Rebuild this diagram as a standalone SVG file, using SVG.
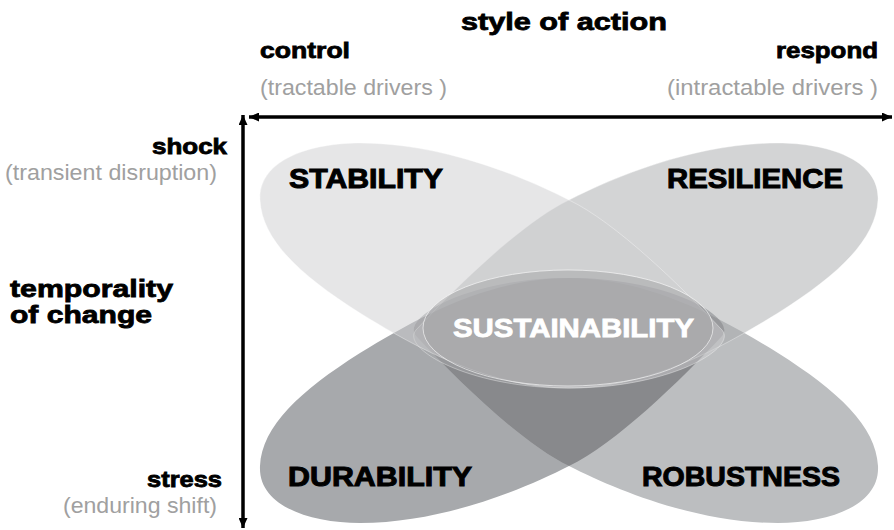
<svg xmlns="http://www.w3.org/2000/svg" width="894" height="530" viewBox="0 0 894 530">
<style>
.lab{font-family:"Liberation Sans",Arial,sans-serif;font-weight:bold;fill:#000;stroke:#000;stroke-width:0.8}
.big{font-family:"Liberation Sans",Arial,sans-serif;font-weight:bold;font-size:27px;fill:#000;stroke:#000;stroke-width:1}
.sub{font-family:"Liberation Sans",Arial,sans-serif;font-size:22px;fill:#a0a0a0}
.edge{stroke:#ffffff;stroke-opacity:0.6;stroke-width:0.6}
</style>
<defs>
<path id="petal" d="M 260,200 C 258,160 310,143 360,143 C 440,143 520,175 569,200 C 615,222 680,285 722,330 C 738,348 670,388 570,388 C 490,388 420,350 360,313 C 300,275 262,240 260,200 Z"/>
<clipPath id="clipD"><use href="#petal" transform="matrix(1,0,0,-1,0,666)"/></clipPath>
<marker id="ah" viewBox="0 0 10 9" refX="10" refY="4.5" markerWidth="10" markerHeight="9" markerUnits="userSpaceOnUse" orient="auto-start-reverse"><path d="M0,0 L10,4.5 L0,9 Z" fill="#000"/></marker>
</defs>
<rect width="894" height="530" fill="#ffffff"/>

<g id="durability">
<use href="#petal" transform="matrix(1,0,0,-1,0,666)" fill="#a7a9ac"/>
</g>
<g id="robustness">
<use href="#petal" transform="matrix(-1,0,0,-1,1138,666)" fill="#bcbec0"/>
</g>
<g id="overlap-durability-robustness" clip-path="url(#clipD)">
<use href="#petal" transform="matrix(-1,0,0,-1,1138,666)" fill="#88898c"/>
</g>
<g id="resilience">
<use href="#petal" class="edge" transform="matrix(-1,0,0,1,1138,0)" fill="#a7a9ac" fill-opacity="0.5"/>
</g>
<g id="stability">
<use href="#petal" class="edge" fill="#cdcecf" fill-opacity="0.5"/>
</g>
<g id="sustainability">
<ellipse cx="568" cy="328" rx="145" ry="58" fill="#9d9ea1" fill-opacity="0.43" stroke="#ffffff" stroke-opacity="0.6" stroke-width="1"/>
<text x="453" y="337" textLength="241" lengthAdjust="spacingAndGlyphs" style="font-family:'Liberation Sans',Arial,sans-serif;font-weight:bold;font-size:26px;fill:#ffffff;stroke:#ffffff;stroke-width:0.8">SUSTAINABILITY</text>
</g>

<g id="labels">
<text class="big" x="289" y="188" textLength="154" lengthAdjust="spacingAndGlyphs">STABILITY</text>
<text class="big" x="667" y="188" textLength="176" lengthAdjust="spacingAndGlyphs">RESILIENCE</text>
<text class="big" x="288" y="486" textLength="184" lengthAdjust="spacingAndGlyphs">DURABILITY</text>
<text class="big" x="642" y="486" textLength="198" lengthAdjust="spacingAndGlyphs">ROBUSTNESS</text>
</g>

<g id="connectors">
<line x1="249" y1="117" x2="892" y2="117" stroke="#000" stroke-width="3.5" marker-start="url(#ah)" marker-end="url(#ah)"/>
<line x1="243" y1="115" x2="243" y2="528" stroke="#000" stroke-width="3.5" marker-start="url(#ah)" marker-end="url(#ah)"/>
</g>

<g id="axis-x">
<text class="lab" x="461" y="30" font-size="24" textLength="206" lengthAdjust="spacingAndGlyphs">style of action</text>
<text class="lab" x="260" y="58" font-size="22" textLength="90" lengthAdjust="spacingAndGlyphs">control</text>
<text class="sub" x="260" y="95" textLength="187" lengthAdjust="spacingAndGlyphs">(tractable drivers )</text>
<text class="lab" x="776" y="58" font-size="22" textLength="102" lengthAdjust="spacingAndGlyphs">respond</text>
<text class="sub" x="667" y="95" textLength="211" lengthAdjust="spacingAndGlyphs">(intractable drivers )</text>
</g>
<g id="axis-y">
<text class="lab" x="152" y="154" font-size="22" textLength="75" lengthAdjust="spacingAndGlyphs">shock</text>
<text class="sub" x="5" y="180" textLength="212" lengthAdjust="spacingAndGlyphs">(transient disruption)</text>
<text class="lab" x="10" y="297" font-size="24" textLength="163" lengthAdjust="spacingAndGlyphs">temporality</text>
<text class="lab" x="10" y="323" font-size="24" textLength="142" lengthAdjust="spacingAndGlyphs">of change</text>
<text class="lab" x="147" y="487" font-size="22" textLength="75" lengthAdjust="spacingAndGlyphs">stress</text>
<text class="sub" x="63" y="513" textLength="154" lengthAdjust="spacingAndGlyphs">(enduring shift)</text>
</g>
</svg>
